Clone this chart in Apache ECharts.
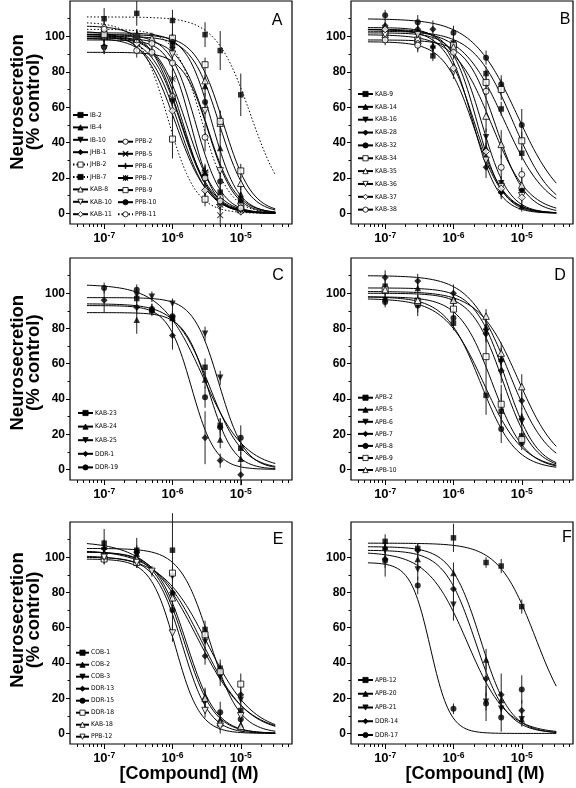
<!DOCTYPE html>
<html><head><meta charset="utf-8">
<script src="https://cdn.jsdelivr.net/npm/echarts@6/dist/echarts.min.js"></script>
<style>html,body{margin:0;padding:0;background:#fff}#c{width:576px;height:788px}</style>
</head><body><div id="c"></div>
<script>
// ---------------- DATA ----------------
const concentrations = [1e-7, 3e-7, 5e-7, 1e-6, 3e-6, 5e-6, 1e-5];
const curveFrom = 5.6e-8, curveTo = 3.2e-5;
const xTickLabels = [1e-7, 1e-6, 1e-5];
const yTickLabels = [0, 20, 40, 60, 80, 100];
const yMinorTicks = [10, 30, 50, 70, 90, 110];

// Panel A
const namesA = ['IB-2','IB-4','IB-10','JHB-1','JHB-2','JHB-7','KAB-8','KAB-10','KAB-11','PPB-2','PPB-5','PPB-6','PPB-7','PPB-9','PPB-10','PPB-11'];
const valuesA = [
 [101,100,null,95,20,12,6],
 [102,101,99,100,72,37,11],
 [99,97,null,92,12,5,2],
 [103,98,null,64,22,8,3],
 [100,97,null,42,8,null,2],
 [110,113,null,109,101,92,67],
 [100,99,99,99,75,51,17],
 [93,95,null,90,58,24,4],
 [105,96,null,58,13,5,1],
 [100,98,96,66,20,9,3],
 [101,99,null,76,23,-1,2],
 [100,101,null,76,24,8,2],
 [100,99,null,65,23,5,2],
 [101,100,null,99,84,52,24],
 [94,100,null,97,63,18,8],
 [104,92,91,85,43,7,3]];
const errorsA = [
 [5,4,null,5,6,5,4],[4,3,3,4,6,8,5],[4,3,null,4,5,4,2],[4,5,null,10,4,5,2],
 [5,4,null,11,4,null,2],[6,7,null,6,7,11,12],[3,3,3,3,5,7,4],[3,3,null,3,5,5,3],
 [4,5,null,6,4,3,2],[3,3,4,6,4,3,2],[3,3,null,5,4,6,2],[3,3,null,5,4,4,2],
 [3,3,null,8,4,3,2],[3,3,null,3,4,6,4],[4,3,null,3,5,5,4],[4,4,3,5,8,3,2]];
const topA  = [101,102,98,106,108,111,100,91,103,100,100,101,99,101,99,104];
const ic50A = [2.2e-6,3.8e-6,1.9e-6,1.3e-6,8.5e-7,1.4e-5,4.9e-6,3.4e-6,1.1e-6,1.35e-6,1.45e-6,1.6e-6,1.25e-6,5.6e-6,3.2e-6,2.7e-6];
const hillA = [2.3,2.3,2.6,1.9,2.1,1.7,2.1,2.3,1.8,2.0,2.2,2.0,2.0,2.1,2.1,2.2];

// Panel B
const namesB = ['KAB-9','KAB-14','KAB-16','KAB-28','KAB-32','KAB-34','KAB-35','KAB-36','KAB-37','KAB-38'];
const valuesB = [
 [104,97,89,95,79,59,34],
 [103,103,95,96,37,13,4],
 [102,101,93,96,43,17,12],
 [106,104,104,95,26,12,13],
 [112,108,null,102,88,73,50],
 [102,98,null,95,74,70,41],
 [101,99,null,94,55,39,16],
 [101,101,null,80,30,15,10],
 [104,96,null,82,35,14,9],
 [98,95,null,91,69,26,22]];
const errorsB = [
 [4,4,3,4,4,4,4],[3,4,4,4,5,4,3],[3,3,4,4,5,4,4],[4,4,5,4,6,4,4],[3,4,null,4,4,5,9],
 [3,3,null,4,7,6,5],[3,3,null,4,9,8,5],[3,3,null,4,5,4,3],[3,4,null,4,5,4,3],[3,4,null,4,5,7,4]];
const topB  = [104,104,102,105,110,103,101,97,104,98];
const ic50B = [5.6e-6,2.2e-6,2.6e-6,1.9e-6,8.7e-6,7.5e-6,3.6e-6,2.0e-6,2.0e-6,4.2e-6];
const hillB = [1.4,2.3,2.2,2.3,1.3,1.5,1.6,2.0,2.0,2.0];

// Panel C
const namesC = ['KAB-23','KAB-24','KAB-25','DDR-1','DDR-19'];
const valuesC = [
 [null,97,90,86,58,25,12],
 [null,85,91,86,51,17,6],
 [null,99,98,94,77,52,null],
 [96,92,null,76,18,5,-3],
 [103,102,91,87,41,24,18]];
const errorsC = [
 [null,3,3,4,5,4,4],[null,8,3,4,5,5,4],[null,3,3,3,4,4,null],[7,4,null,8,15,4,6],[3,3,3,4,6,5,7]];
const topC  = [94,89,97.5,93,105];
const ic50C = [3.5e-6,3.4e-6,4.8e-6,1.9e-6,2.8e-6];
const hillC = [1.8,2.4,2.3,2.5,1.4];

// Panel D
const namesD = ['APB-2','APB-5','APB-6','APB-7','APB-8','APB-9','APB-10'];
const valuesD = [
 [104,96,null,83,42,33,19],
 [97,103,null,97,81,63,30],
 [96,93,null,95,78,61,27],
 [109,107,null,100,77,56,39],
 [95,93,null,86,null,23,15],
 [102,95,null,91,64,37,17],
 [102,96,null,96,87,66,47]];
const errorsD = [
 [4,3,null,4,11,10,5],[3,4,null,3,5,6,5],[3,4,null,3,5,6,5],[4,4,null,5,5,7,5],
 [3,6,null,4,null,8,4],[3,3,null,4,11,11,4],[3,3,null,3,4,6,7]];
const topD  = [97,103,100,110,98,98,101];
const ic50D = [2.8e-6,5.8e-6,5.3e-6,6.5e-6,2.5e-6,3.7e-6,9e-6];
const hillD = [1.5,1.9,1.9,1.5,1.7,1.8,1.5];

// Panel E
const namesE = ['COB-1','COB-2','COB-3','DDR-13','DDR-15','DDR-18','KAB-18','PPB-12'];
const valuesE = [
 [108,104,null,104,59,37,13],
 [106,102,null,80,21,8,5],
 [104,101,null,89,52,32,19],
 [102,103,null,80,44,35,22],
 [100,98,null,70,19,12,8],
 [99,97,null,91,56,35,28],
 [101,99,null,77,20,6,4],
 [100,97,92,57,13,4,10]];
const errorsE = [
 [8,7,null,21,5,5,4],[4,4,null,4,5,4,3],[4,4,null,4,5,5,4],[4,4,null,4,5,5,4],
 [4,4,null,13,5,6,4],[3,3,null,4,5,4,6],[3,3,null,5,5,4,3],[3,3,3,5,4,4,3]];
const topE  = [105,103,104,109,100,101,103,99];
const ic50E = [3.5e-6,1.6e-6,2.7e-6,2.3e-6,1.4e-6,3.3e-6,1.5e-6,1.1e-6];
const hillE = [2.0,2.0,1.3,1.2,2.2,1.3,2.0,2.4];

// Panel F
const namesF = ['APB-12','APB-20','APB-21','DDR-14','DDR-17'];
const valuesF = [
 [109,105,null,111,97,95,72],
 [106,99,null,91,42,19,8],
 [104,93,null,73,18,14,8],
 [99,104,null,82,31,22,13],
 [98,84,null,14,17,9,25]];
const errorsF = [
 [4,3,null,8,3,4,4],[4,5,null,6,6,5,4],[4,6,null,9,5,5,4],[10,4,null,6,10,12,6],[4,5,null,3,10,8,8]];
const topF  = [108,106,103,104,97];
const ic50F = [1.6e-5,2.5e-6,1.6e-6,2.1e-6,4.6e-7];
const hillF = [1.6,2.0,1.5,1.9,3.0];

// ---------------- STYLE / LAYOUT ----------------
const markersA = ['sq','tri','itri','dia','osq','sq','otri','oitri','odia','ocir','x','plus','star','osq','cir','ocir'];
const dottedA  = [0,0,0,0,1,1,0,0,0,0,0,0,0,0,0,1];
const markersB = ['sq','tri','itri','dia','cir','osq','otri','oitri','odia','ocir'];
const markersC = ['sq','tri','itri','dia','cir'];
const markersD = ['sq','tri','itri','dia','cir','osq','otri'];
const markersE = ['sq','tri','itri','dia','cir','osq','otri','oitri'];
const markersF = ['sq','tri','itri','dia','cir'];

const ITRI = 'path://M0,0 L10,0 L5,9 Z';
const XP = 'path://M1,0 L5,4 L9,0 L10,1 L6,5 L10,9 L9,10 L5,6 L1,10 L0,9 L4,5 L0,1 Z';
const PLUS = 'path://M4.3,0 L5.7,0 L5.7,4.3 L10,4.3 L10,5.7 L5.7,5.7 L5.7,10 L4.3,10 L4.3,5.7 L0,5.7 L0,4.3 L4.3,4.3 Z';
const STAR = 'path://M4.4,0 L5.6,0 L5.6,10 L4.4,10 Z M0,4.4 L10,4.4 L10,5.6 L0,5.6 Z M1,0.2 L5,4.2 L9,0.2 L9.8,1 L5.8,5 L9.8,9 L9,9.8 L5,5.8 L1,9.8 L0.2,9 L4.2,5 L0.2,1 Z';
const symbolTable = {
  sq:['rect',false,5.5], tri:['triangle',false,6.5], itri:[ITRI,false,6.5], dia:['diamond',false,7], cir:['circle',false,6],
  osq:['rect',true,6], otri:['triangle',true,6.5], oitri:[ITRI,true,6.5], odia:['diamond',true,7], ocir:['circle',true,6],
  x:[XP,false,6.5], plus:[PLUS,false,7], star:[STAR,false,7]
};

const FONT = "'Liberation Sans', Arial, sans-serif";
const LEGFONT = "'Liberation Sans Narrow', 'Arial Narrow', 'DejaVu Sans Condensed', 'Liberation Sans', Arial, sans-serif";

const panels = [
  {names:namesA, values:valuesA, errors:errorsA, top:topA, ic50:ic50A, hill:hillA, markers:markersA, dotted:dottedA,
   letter:'A', box:[70,1,222,223], letterPos:[277,21],
   legends:[{s:0,e:9,left:72,top:111,gap:4.4,w:15},{s:9,e:16,left:117,top:137.7,gap:4.1,w:15}]},
  {names:namesB, values:valuesB, errors:errorsB, top:topB, ic50:ic50B, hill:hillB, markers:markersB,
   letter:'B', box:[351,1,222,223], letterPos:[565,20],
   legends:[{s:0,e:10,left:357,top:90,gap:4.85,w:15}]},
  {names:namesC, values:valuesC, errors:errorsC, top:topC, ic50:ic50C, hill:hillC, markers:markersC,
   letter:'C', box:[70,258,222,222], letterPos:[278,276],
   legends:[{s:0,e:5,left:77,top:409,gap:5.6,w:15}]},
  {names:namesD, values:valuesD, errors:errorsD, top:topD, ic50:ic50D, hill:hillD, markers:markersD,
   letter:'D', box:[351,258,222,222], letterPos:[560,276],
   legends:[{s:0,e:7,left:357,top:393.7,gap:4.05,w:15}]},
  {names:namesE, values:valuesE, errors:errorsE, top:topE, ic50:ic50E, hill:hillE, markers:markersE,
   letter:'E', box:[70,522,222,222], letterPos:[278,540],
   legends:[{s:0,e:8,left:75,top:648.7,gap:4,w:13}]},
  {names:namesF, values:valuesF, errors:errorsF, top:topF, ic50:ic50F, hill:hillF, markers:markersF,
   letter:'F', box:[351,522,222,222], letterPos:[567,538],
   legends:[{s:0,e:5,left:357,top:676,gap:5.75,w:15}]}
];

// ---------------- BUILD ----------------
const L = Math.log10;
const xMin = -7.5, xMax = -4.25;
const minorX = [];
for (let n = -8; n <= -5; n++) for (let k = 2; k <= 9; k++) { const v = n + L(k); if (v > xMin && v < xMax) minorX.push(v); }

const grids = [], xAxes = [], yAxes = [], series = [], legends = [], graphics = [];
const supRich = {
  b:{fontSize:13, fontWeight:'bold', fontFamily:FONT, color:'#000', lineHeight:15},
  s:{fontSize:8.5, fontWeight:'bold', fontFamily:FONT, color:'#000', lineHeight:9, verticalAlign:'top'}
};

panels.forEach((p, i) => {
  const [gl, gt, gw, gh] = p.box;
  grids.push({left:gl, top:gt, width:gw, height:gh, show:true, borderColor:'#000', borderWidth:1.2,
              backgroundColor:'transparent', containLabel:false, outerBoundsMode:'none'});
  xAxes.push({type:'value', gridIndex:i, min:xMin, max:xMax, position:'bottom',
    axisLine:{show:false, onZero:false}, splitLine:{show:false},
    axisTick:{show:true, customValues:xTickLabels.map(L), length:5, lineStyle:{color:'#000', width:1}},
    axisLabel:{show:true, customValues:xTickLabels.map(L), margin:7,
      formatter:(v)=>'{b|10}{s|' + Math.round(v) + '}', rich:supRich}});
  xAxes.push({type:'value', gridIndex:i, min:xMin, max:xMax, position:'bottom',
    axisLine:{show:false, onZero:false}, splitLine:{show:false}, axisLabel:{show:false},
    axisTick:{show:true, customValues:minorX, length:3, lineStyle:{color:'#000', width:1}}});
  yAxes.push({type:'value', gridIndex:i, min:-6, max:120, position:'left',
    axisLine:{show:false, onZero:false}, splitLine:{show:false},
    axisTick:{show:true, customValues:yTickLabels, length:4, lineStyle:{color:'#000', width:1}},
    axisLabel:{show:true, customValues:yTickLabels, margin:5, fontSize:12, fontWeight:'bold', fontFamily:FONT, color:'#000'}});
  yAxes.push({type:'value', gridIndex:i, min:-6, max:120, position:'left',
    axisLine:{show:false, onZero:false}, splitLine:{show:false}, axisLabel:{show:false},
    axisTick:{show:true, customValues:yMinorTicks, length:2.5, lineStyle:{color:'#000', width:1}}});
  const xi = 2*i, yi = 2*i;

  p.names.forEach((name, j) => {
    const [sym, open, size] = symbolTable[p.markers[j]];
    const itemStyle = open ? {color:'#fff', borderColor:'#000', borderWidth:1} : {color:'#000', borderColor:'#000', borderWidth:0};
    const dotted = p.dotted && p.dotted[j];
    // fitted logistic curve (parameters)
    const curve = [];
    const a = L(curveFrom), b = L(curveTo), N = 140;
    for (let k = 0; k <= N; k++) {
      const lx = a + (b - a) * k / N;
      const y = p.top[j] / (1 + Math.pow(Math.pow(10, lx) / p.ic50[j], p.hill[j]));
      curve.push([lx, y]);
    }
    series.push({type:'line', name, xAxisIndex:xi, yAxisIndex:yi, data:curve, showSymbol:false,
      symbol:sym, symbolSize:size, itemStyle, smooth:false, silent:true, z:2,
      lineStyle:{color:'#000', width:1, type: dotted ? [1.5, 2] : 'solid'}, emphasis:{disabled:true}});
    const pts = [], errs = [];
    p.values[j].forEach((v, k) => {
      if (v == null) return;
      const lx = L(concentrations[k]);
      pts.push([lx, v]);
      const e = p.errors[j][k];
      if (e) errs.push([lx, v - e, v + e]);
    });
    series.push({type:'custom', name:name + ' sem', xAxisIndex:xi, yAxisIndex:yi, coordinateSystem:'cartesian2d',
      data:errs, encode:{x:0, y:[1,2]}, silent:true, z:3,
      renderItem:(params, api) => {
        const p1 = api.coord([api.value(0), api.value(1)]);
        const p2 = api.coord([api.value(0), api.value(2)]);
        return {type:'line', shape:{x1:p1[0], y1:p1[1], x2:p2[0], y2:p2[1]}, style:{stroke:'#222', lineWidth:1}};
      }});
    series.push({type:'scatter', name:name + ' pts', xAxisIndex:xi, yAxisIndex:yi, data:pts,
      symbol:sym, symbolSize:size, itemStyle, silent:true, z:4, emphasis:{disabled:true}});
  });

  p.legends.forEach(lg => {
    legends.push({show:true, orient:'vertical', left:lg.left, top:lg.top, padding:0, itemGap:lg.gap,
      itemWidth:lg.w, itemHeight:6.5, selectedMode:false, data:p.names.slice(lg.s, lg.e),
      itemStyle:{borderWidth:0.8},
      textStyle:{fontSize:6.7, color:'#000', fontFamily:LEGFONT, lineHeight:8, padding:[0,0,0,-3]}});
  });

  graphics.push({type:'text', x:p.letterPos[0], y:p.letterPos[1],
    style:{text:p.letter, fontSize:16, fontFamily:FONT, fill:'#000', textAlign:'center', textVerticalAlign:'middle'}});
});

// axis titles
[102, 362.7, 620].forEach(cy => {
  graphics.push({type:'text', x:25.5, y:cy, rotation:Math.PI/2,
    style:{text:'Neurosecretion\n(% control)', fontSize:18.5, fontWeight:'bold', fontFamily:FONT, fill:'#000',
      textAlign:'center', textVerticalAlign:'middle', lineHeight:16}});
});
[189, 475].forEach(cx => {
  graphics.push({type:'text', x:cx, y:774,
    style:{text:'[Compound] (M)', fontSize:18, fontWeight:'bold', fontFamily:FONT, fill:'#000',
      textAlign:'center', textVerticalAlign:'middle'}});
});

const chart = echarts.init(document.getElementById('c'), null, {renderer:'canvas', width:576, height:788});
chart.setOption({
  animation:false, backgroundColor:'#fff',
  grid:grids, xAxis:xAxes, yAxis:yAxes, series, legend:legends, graphic:graphics
});
</script></body></html>
